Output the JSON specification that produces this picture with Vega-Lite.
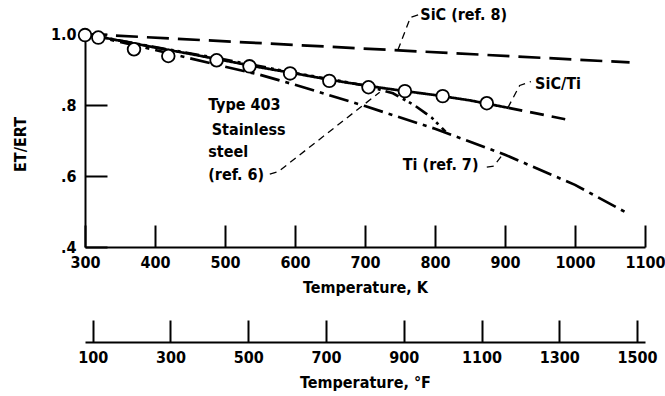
{
  "$schema": "https://vega.github.io/schema/vega-lite/v6.json",
  "width": 560,
  "height": 213,
  "autosize": {"type": "none"},
  "padding": {"left": 85, "top": 34, "right": 20, "bottom": 149},
  "background": "white",
  "config": {
    "view": {"stroke": null},
    "font": "DejaVu Sans Condensed, Liberation Sans, sans-serif",
    "axis": {
      "grid": false,
      "domainColor": "black",
      "domainWidth": 2,
      "tickColor": "black",
      "tickWidth": 2,
      "tickSize": -22,
      "labelFlush": false,
      "labelFont": "DejaVu Sans Condensed, Liberation Sans, sans-serif",
      "labelFontSize": 16,
      "labelFontWeight": "bold",
      "labelColor": "black",
      "titleFont": "DejaVu Sans Condensed, Liberation Sans, sans-serif",
      "titleFontSize": 16,
      "titleFontWeight": "bold",
      "titleColor": "black"
    },
    "text": {"font": "DejaVu Sans Condensed, Liberation Sans, sans-serif", "fontSize": 16, "fontWeight": "bold", "color": "black"}
  },
  "datasets": {
    "curves": [
      {"series": "SiC", "i": 0, "K": 300, "E": 1.0},
      {"series": "SiC", "i": 1, "K": 1078, "E": 0.92},
      {"series": "SiC/Ti", "i": 0, "K": 300, "E": 1.0},
      {"series": "SiC/Ti", "i": 1, "K": 350, "E": 0.981},
      {"series": "SiC/Ti", "i": 2, "K": 400, "E": 0.962},
      {"series": "SiC/Ti", "i": 3, "K": 450, "E": 0.944},
      {"series": "SiC/Ti", "i": 4, "K": 500, "E": 0.925},
      {"series": "SiC/Ti", "i": 5, "K": 550, "E": 0.906},
      {"series": "SiC/Ti", "i": 6, "K": 600, "E": 0.889},
      {"series": "SiC/Ti", "i": 7, "K": 650, "E": 0.871},
      {"series": "SiC/Ti", "i": 8, "K": 700, "E": 0.855},
      {"series": "SiC/Ti", "i": 9, "K": 750, "E": 0.841},
      {"series": "SiC/Ti", "i": 10, "K": 800, "E": 0.828},
      {"series": "SiC/Ti", "i": 11, "K": 850, "E": 0.813},
      {"series": "SiC/Ti", "i": 12, "K": 905, "E": 0.792},
      {"series": "SiC/Ti extrapolated", "i": 0, "K": 905, "E": 0.792},
      {"series": "SiC/Ti extrapolated", "i": 1, "K": 986, "E": 0.76},
      {"series": "Ti", "i": 0, "K": 300, "E": 1.0},
      {"series": "Ti", "i": 1, "K": 400, "E": 0.955},
      {"series": "Ti", "i": 2, "K": 500, "E": 0.908},
      {"series": "Ti", "i": 3, "K": 550, "E": 0.885},
      {"series": "Ti", "i": 4, "K": 600, "E": 0.857},
      {"series": "Ti", "i": 5, "K": 700, "E": 0.797},
      {"series": "Ti", "i": 6, "K": 800, "E": 0.733},
      {"series": "Ti", "i": 7, "K": 900, "E": 0.66},
      {"series": "Ti", "i": 8, "K": 1000, "E": 0.575},
      {"series": "Ti", "i": 9, "K": 1075, "E": 0.495},
      {"series": "Stainless", "i": 0, "K": 300, "E": 1.0},
      {"series": "Stainless", "i": 1, "K": 400, "E": 0.963},
      {"series": "Stainless", "i": 2, "K": 500, "E": 0.928},
      {"series": "Stainless", "i": 3, "K": 600, "E": 0.89},
      {"series": "Stainless", "i": 4, "K": 700, "E": 0.855},
      {"series": "Stainless", "i": 5, "K": 740, "E": 0.833},
      {"series": "Stainless", "i": 6, "K": 770, "E": 0.8},
      {"series": "Stainless", "i": 7, "K": 795, "E": 0.765},
      {"series": "Stainless", "i": 8, "K": 815, "E": 0.725}
    ],
    "circles": [
      {"K": 300, "E": 0.997},
      {"K": 319, "E": 0.99},
      {"K": 370, "E": 0.957},
      {"K": 419, "E": 0.938},
      {"K": 488, "E": 0.926},
      {"K": 535, "E": 0.909},
      {"K": 593, "E": 0.889},
      {"K": 649, "E": 0.868},
      {"K": 705, "E": 0.85},
      {"K": 757, "E": 0.839},
      {"K": 811, "E": 0.825},
      {"K": 874, "E": 0.805}
    ],
    "leaders": [
      {"id": "SiC", "i": 0, "K": 747, "E": 0.955},
      {"id": "SiC", "i": 1, "K": 765, "E": 1.047},
      {"id": "SiC", "i": 2, "K": 776, "E": 1.054},
      {"id": "SiC/Ti", "i": 0, "K": 904, "E": 0.792},
      {"id": "SiC/Ti", "i": 1, "K": 921, "E": 0.855},
      {"id": "SiC/Ti", "i": 2, "K": 937, "E": 0.866},
      {"id": "Ti", "i": 0, "K": 874, "E": 0.625},
      {"id": "Ti", "i": 1, "K": 884, "E": 0.628},
      {"id": "Ti", "i": 2, "K": 898, "E": 0.664},
      {"id": "Stainless", "i": 0, "K": 564, "E": 0.605},
      {"id": "Stainless", "i": 1, "K": 576, "E": 0.612},
      {"id": "Stainless", "i": 2, "K": 721, "E": 0.836}
    ],
    "labels": [
      {"text": "SiC (ref. 8)", "K": 779, "E": 1.054},
      {"text": "SiC/Ti", "K": 943, "E": 0.86},
      {"text": "Ti (ref. 7)", "K": 754, "E": 0.631},
      {"text": "Type 403", "K": 476, "E": 0.8},
      {"text": "Stainless", "K": 481, "E": 0.73},
      {"text": "steel", "K": 476, "E": 0.668},
      {"text": "(ref. 6)", "K": 476, "E": 0.603}
    ]
  },
  "resolve": {"axis": {"x": "independent"}},
  "layer": [
    {
      "encoding": {
        "x": {
          "field": "K",
          "type": "quantitative",
          "scale": {"domain": [300, 1100], "nice": false, "zero": false},
          "axis": {
            "orient": "bottom",
            "values": [300, 400, 500, 600, 700, 800, 900, 1000, 1100],
            "format": "d",
            "labelPadding": 29,
            "title": "Temperature, K",
            "titlePadding": 9
          }
        },
        "y": {
          "field": "E",
          "type": "quantitative",
          "scale": {"domain": [0.4, 1.0], "nice": false, "zero": false},
          "axis": {
            "values": [0.4, 0.6, 0.8, 1.0],
            "labelExpr": "datum.value == 1 ? '1.0' : '.' + round(datum.value * 10)",
            "labelPadding": 31,
            "title": "ET/ERT",
            "titleX": -65,
            "titleY": 110,
            "titleBaseline": "middle"
          }
        }
      },
      "layer": [
        {
          "data": {"name": "curves"},
          "mark": {"type": "line", "color": "black", "strokeWidth": 2.7},
          "encoding": {
            "order": {"field": "i", "type": "quantitative"},
            "detail": {"field": "series", "type": "nominal"},
            "strokeDash": {
              "field": "series",
              "type": "nominal",
              "scale": {
                "domain": ["SiC", "SiC/Ti", "SiC/Ti extrapolated", "Ti", "Stainless"],
                "range": [[22, 9], [1, 0], [14, 8], [20, 6, 4, 6], [14, 5, 3, 4, 3, 5]]
              },
              "legend": null
            }
          }
        },
        {
          "data": {"name": "leaders"},
          "mark": {"type": "line", "color": "black", "strokeWidth": 1.3, "strokeDash": [7, 5]},
          "encoding": {
            "order": {"field": "i", "type": "quantitative"},
            "detail": {"field": "id", "type": "nominal"}
          }
        },
        {
          "data": {"name": "circles"},
          "mark": {"type": "point", "shape": "circle", "size": 160, "filled": true, "fill": "white", "stroke": "black", "strokeWidth": 1.8, "opacity": 1}
        },
        {
          "data": {"name": "labels"},
          "mark": {"type": "text", "align": "left", "baseline": "middle"},
          "encoding": {"text": {"field": "text", "type": "nominal"}}
        }
      ]
    },
    {
      "data": {"name": "circles"},
      "mark": {"type": "point", "opacity": 0},
      "encoding": {
        "x": {
          "field": "K",
          "type": "quantitative",
          "axis": {
            "orient": "bottom",
            "offset": 95,
            "values": [310.93, 422.04, 533.15, 644.26, 755.37, 866.48, 977.59, 1088.71],
            "labelExpr": "format(round((datum.value - 273.15) * 1.8 + 32), 'd')",
            "labelPadding": 29,
            "title": "Temperature, °F",
            "titlePadding": 9
          }
        }
      }
    }
  ]
}
